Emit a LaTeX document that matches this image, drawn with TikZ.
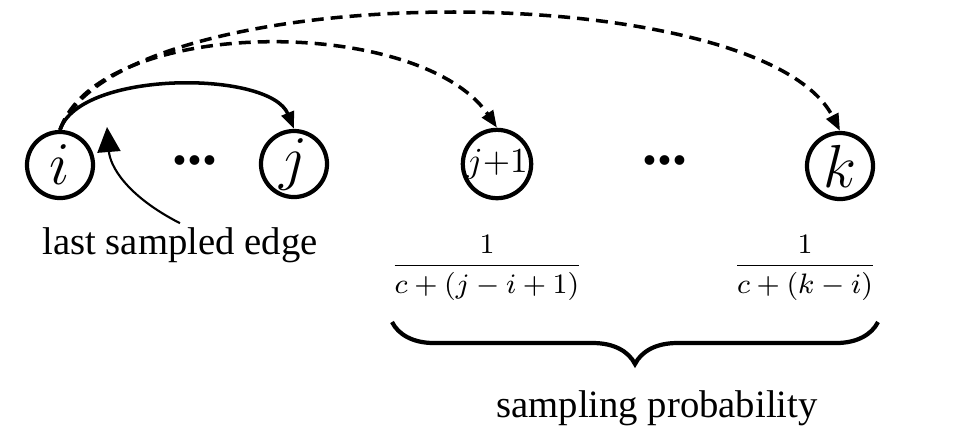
\documentclass[tikz,border=0pt]{standalone}
\usepackage{amsmath}
\usepackage{fontspec}
\setmainfont{Liberation Serif}
\usetikzlibrary{positioning,arrows.meta,decorations.pathreplacing}

\begin{document}
\begin{tikzpicture}[
    x=0.01cm, y=-0.01cm,
    font=\fontsize{11}{13}\selectfont,
    vertex/.style={
        draw,
        circle,
        line width=1.2pt,
        minimum size=0.66cm,
        inner sep=0pt,
        font=\fontsize{16}{16}\selectfont
    },
    smallvertex/.style={vertex, font=\fontsize{10}{10}\selectfont},
    ellip/.style={font=\fontsize{17}{17}\selectfont\bfseries},
    prob/.style={font=\fontsize{8.5}{10}\selectfont},
    note/.style={inner sep=1pt},
    arrow/.style={-{Triangle[length=0.17cm,width=0.13cm]}, line width=1pt},
    dasharrow/.style={arrow, dash pattern=on 3.4pt off 2pt},
    pointer/.style={-{Triangle[length=0.25cm,width=0.23cm]}, line width=0.6pt},
    bracket/.style={decorate, decoration={brace, mirror, amplitude=0.42cm}, line width=1.2pt}
]
\useasboundingbox (0,0) rectangle (967,429);

% ============================================================
% NODES
% ============================================================
\node[vertex] (i) at (60,165) {$i$};
\node[ellip] (dotsA) at (195,160) {...};
\node[vertex] (j) at (294,164) {$j$};
\node[smallvertex] (jp) at (497,164) {$j{+}1$};
\node[ellip] (dotsB) at (665,160) {...};
\node[vertex] (k) at (840,166) {$k$};

\node[note] (last) at (180,245) {last sampled edge};
\coordinate (lastpt) at (107,127);

% ============================================================
% EDGES
% ============================================================
\draw[arrow] (i.north) .. controls (80,70) and (270,70) .. (j.north);
\draw[dasharrow] (i.north) .. controls (100,15) and (420,15) .. (jp.north);
\draw[dasharrow] (i.north) .. controls (120,-25) and (760,-25) .. (k.north);
\draw[pointer] (last.north) .. controls (125,195) and (110,165) .. (lastpt);

% ============================================================
% SAMPLING PROBABILITY
% ============================================================
\node[prob] (probA) at (487,268) {$\dfrac{1}{c+(j-i+1)}$};
\node[prob] (probB) at (805,268) {$\dfrac{1}{c+(k-i)}$};

\coordinate (braceL) at (392,322);
\coordinate (braceR) at (878,322);
\draw[bracket] (braceL) -- (braceR);
\node (sampling) at (657,408) {sampling probability};

\end{tikzpicture}
\end{document}
